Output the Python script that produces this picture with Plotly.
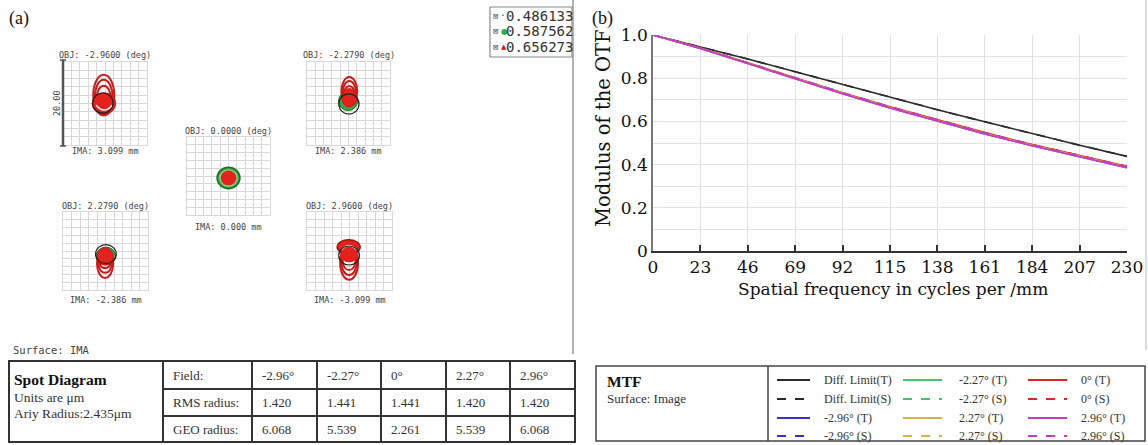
import plotly.graph_objects as go

W, H = 1148, 445

# ---------------- MTF data (panel b) ----------------
freq = [0, 23, 46, 69, 92, 115, 138, 161, 184, 207, 230]
diff_T = [1.000, 0.946, 0.889, 0.830, 0.771, 0.712, 0.654, 0.598, 0.543, 0.490, 0.438]
diff_S = [1.000, 0.946, 0.889, 0.830, 0.771, 0.712, 0.654, 0.598, 0.543, 0.490, 0.438]
m296_T = [1.000, 0.938, 0.868, 0.797, 0.728, 0.662, 0.601, 0.542, 0.487, 0.435, 0.386]
m296_S = [1.000, 0.939, 0.870, 0.800, 0.732, 0.666, 0.605, 0.546, 0.491, 0.439, 0.391]
m227_T = [1.000, 0.939, 0.869, 0.799, 0.730, 0.664, 0.603, 0.544, 0.489, 0.437, 0.388]
m227_S = [1.000, 0.939, 0.870, 0.800, 0.731, 0.665, 0.604, 0.545, 0.490, 0.438, 0.389]
z_T = [1.000, 0.940, 0.871, 0.802, 0.733, 0.668, 0.607, 0.548, 0.493, 0.441, 0.392]
z_S = [1.000, 0.940, 0.871, 0.802, 0.733, 0.668, 0.607, 0.548, 0.493, 0.441, 0.392]
p227_T = [1.000, 0.939, 0.869, 0.799, 0.730, 0.664, 0.603, 0.544, 0.489, 0.437, 0.388]
p227_S = [1.000, 0.939, 0.870, 0.800, 0.731, 0.665, 0.604, 0.545, 0.490, 0.438, 0.389]
p296_T = [1.000, 0.938, 0.868, 0.797, 0.728, 0.662, 0.601, 0.542, 0.487, 0.435, 0.386]
p296_S = [1.000, 0.939, 0.870, 0.800, 0.732, 0.666, 0.605, 0.546, 0.491, 0.439, 0.391]
y_tickvals = [0, 0.2, 0.4, 0.6, 0.8, 1.0]
y_ticktext = ["0", "0.2", "0.4", "0.6", "0.8", "1.0"]

# ---------------- Spot diagram table data (panel a) ----------------
fields = ["-2.96°", "-2.27°", "0°", "2.27°", "2.96°"]
rms_radius = ["1.420", "1.441", "1.441", "1.420", "1.420"]
geo_radius = ["6.068", "5.539", "2.261", "5.539", "6.068"]
wavelengths = ["0.486133", "0.587562", "0.656273"]
airy_radius = 2.435

obj_labels = ["OBJ: -2.9600 (deg)", "OBJ: -2.2790 (deg)", "OBJ: 0.0000 (deg)",
              "OBJ: 2.2790 (deg)", "OBJ: 2.9600 (deg)"]
ima_labels = ["IMA: 3.099 mm", "IMA: 2.386 mm", "IMA: 0.000 mm",
              "IMA: -2.386 mm", "IMA: -3.099 mm"]

BLACK = "#2b2b2b"
BLUE = "#3b2fc0"
GREEN = "#45c46e"
GOLD = "#d6b444"
RED = "#d42a2a"
MAG = "#c43dc8"

mtf_series = [
    ("Diff. Limit(T)", diff_T, BLACK, "solid"),
    ("Diff. Limit(S)", diff_S, BLACK, "dash"),
    ("-2.96° (T)", m296_T, BLUE, "solid"),
    ("-2.96° (S)", m296_S, BLUE, "dash"),
    ("-2.27° (T)", m227_T, GREEN, "solid"),
    ("-2.27° (S)", m227_S, GREEN, "dash"),
    ("0° (T)", z_T, RED, "solid"),
    ("0° (S)", z_S, RED, "dash"),
    ("2.27° (T)", p227_T, GOLD, "solid"),
    ("2.27° (S)", p227_S, GOLD, "dash"),
    ("2.96° (T)", p296_T, MAG, "solid"),
    ("2.96° (S)", p296_S, MAG, "dash"),
]

def X(px):
    return px / W

def Y(py):
    return 1 - py / H

SERIF = "DejaVu Serif"
TIMES = "Liberation Serif"
MONO = "DejaVu Sans Mono"

fig = go.Figure()
for name, vals, col, dash in mtf_series:
    fig.add_trace(go.Scatter(x=freq, y=vals, mode="lines", name=name,
                             line=dict(color=col, width=1.6, dash=dash),
                             xaxis="x", yaxis="y", showlegend=False))

shapes = []
annotations = []

def txt(x, y, s, size, family, color="#222", xanchor="left", angle=0):
    annotations.append(dict(x=X(x), y=Y(y), xref="paper", yref="paper", text=s,
                            showarrow=False, xanchor=xanchor, yanchor="middle",
                            font=dict(size=size, family=family, color=color),
                            textangle=angle, borderpad=0))

def pline(x0, y0, x1, y1, color="#333", width=1.5, dash="solid"):
    shapes.append(dict(type="line", xref="paper", yref="paper",
                       x0=X(x0), y0=Y(y0), x1=X(x1), y1=Y(y1),
                       line=dict(color=color, width=width, dash=dash)))

def prect(x0, y0, x1, y1, color="#333", width=1.5, fill="rgba(0,0,0,0)"):
    shapes.append(dict(type="rect", xref="paper", yref="paper",
                       x0=X(x0), y0=Y(y1), x1=X(x1), y1=Y(y0),
                       line=dict(color=color, width=width), fillcolor=fill))

# ---------------- spot diagram panels ----------------
panels = [  # grid box in pixels: x0, x1, y0, y1, title y, ima y
    (63, 147, 62, 145, 55, 151),
    (307, 390, 62, 145, 55, 151),
    (187, 270, 137, 215, 131, 227),
    (63, 148, 212, 290, 206, 300),
    (307, 392, 212, 290, 206, 300),
]

layout_axes = {}
for i, (x0, x1, y0, y1, ty, iy) in enumerate(panels):
    n = i + 2
    ax = dict(domain=[X(x0), X(x1)], range=[-10, 10], dtick=2, showgrid=True,
              gridcolor="#d8d8d8", gridwidth=1, zeroline=False, showticklabels=False,
              ticks="", showline=True, mirror=True, linecolor="#d8d8d8", fixedrange=True,
              automargin=False)
    ay = dict(ax)
    ay["domain"] = [Y(y1), Y(y0)]
    layout_axes[f"xaxis{n}"] = dict(ax, anchor=f"y{n}")
    layout_axes[f"yaxis{n}"] = dict(ay, anchor=f"x{n}")
    fig.add_trace(go.Scatter(x=[0], y=[0], mode="markers", marker=dict(size=1, opacity=0),
                             xaxis=f"x{n}", yaxis=f"y{n}", showlegend=False, hoverinfo="skip"))
    cx = (x0 + x1) / 2
    txt(cx, ty, obj_labels[i], 8.5, MONO, "#444", "center")
    txt(cx, iy, ima_labels[i], 8.5, MONO, "#444", "center")

SRED = "#e3221d"
DRED = "#cc1a1a"
SGREEN = "#38a347"
DGREEN = "#1e6e2b"

def ell(n, cx, cy, rx, ry, fill=None, line=None, lw=1.0, dash="solid"):
    shapes.append(dict(type="circle", xref=f"x{n}", yref=f"y{n}",
                       x0=cx - rx, x1=cx + rx, y0=cy - ry, y1=cy + ry,
                       fillcolor=fill or "rgba(0,0,0,0)",
                       line=dict(color=line or "rgba(0,0,0,0)", width=lw, dash=dash)))

def arcpath(n, p, color="white", lw=1.5):
    shapes.append(dict(type="path", xref=f"x{n}", yref=f"y{n}", path=p,
                       line=dict(color=color, width=lw)))

ARC_W = 2.0

# P1: -2.96 deg
for (cx, cy, rx, ry) in [(-0.3, 2.0, 2.5, 4.9), (-0.3, 1.6, 2.1, 4.1), (-0.3, 1.1, 1.7, 3.2)]:
    ell(2, cx, cy, rx, ry, line=DRED, lw=ARC_W)
ell(2, -0.25, 0.0, 2.8, 2.6, fill=SRED, line=DRED, lw=1)
arcpath(2, "M -2.1,-0.4 Q -0.2,-2.7 1.7,-0.4")
ell(2, -0.5, 0.1, airy_radius, airy_radius, line="#222", lw=1.2)

# P2: -2.279 deg
ell(3, -0.1, 0.6, 2.3, 2.3, fill=SGREEN, line=DGREEN, lw=1)
for (cx, cy, rx, ry) in [(0.2, 2.9, 1.9, 3.5), (0.2, 2.6, 1.6, 2.8), (0.2, 2.3, 1.3, 1.9)]:
    ell(3, cx, cy, rx, ry, line=DRED, lw=ARC_W)
ell(3, 0.2, 1.4, 1.8, 2.2, fill=SRED, line=DRED, lw=1)
ell(3, 0.1, -0.1, airy_radius, airy_radius, line="#222", lw=1.2)

# P3: 0 deg
ell(4, 0, -0.5, 2.75, 2.75, fill=SGREEN, line=DGREEN, lw=1.5)
ell(4, 0, -0.5, 2.25, 2.25, fill="#8fd07a")
ell(4, 0, -0.5, 1.9, 1.9, fill=SRED)

# P4: 2.279 deg
ell(5, 0.1, -1.3, 2.3, 2.3, fill=SGREEN, line=DGREEN, lw=1)
for (cx, cy, rx, ry) in [(-0.1, -3.3, 1.9, 3.6), (-0.1, -3.1, 1.6, 2.5), (-0.1, -2.9, 1.3, 1.5)]:
    ell(5, cx, cy, rx, ry, line=DRED, lw=ARC_W)
ell(5, -0.1, -1.4, 1.9, 2.2, fill=SRED, line=DRED, lw=1)
ell(5, 0.1, -0.8, airy_radius, airy_radius, line="#222", lw=1.2)

# P5: 2.96 deg
for (cx, cy, rx, ry) in [(-0.1, -3.0, 2.1, 4.4), (-0.1, -2.8, 1.8, 3.4), (-0.1, -2.6, 1.5, 2.3)]:
    ell(6, cx, cy, rx, ry, line=DRED, lw=ARC_W)
ell(6, -0.2, 1.0, 2.7, 1.9, fill=SRED, line="#a81212", lw=1.5)
arcpath(6, "M -1.9,0.3 Q -0.1,2.4 1.7,0.3")
ell(6, -0.1, -1.0, 1.9, 1.9, fill=SRED)
ell(6, -0.1, -1.15, airy_radius, airy_radius, line="#222", lw=1.2)

# scale bar on first panel
pline(63, 60, 63, 146, "#555", 2.5)
pline(60, 60, 66, 60, "#555", 1.5)
pline(60, 146, 66, 146, "#555", 1.5)
txt(57, 103, "20.00", 8.5, MONO, "#444", "center", angle=-90)

# wavelength legend box
prect(490, 7, 572, 57, "#8a8a8a", 1.2, "white")
wl_marks = [("·", "#3050d0", 12), ("●", "#2fb04a", 8), ("▲", "#d02020", 7)]
for k, wl in enumerate(wavelengths):
    yy = 16 + k * 15.5
    txt(492, yy, "⊠", 9, MONO, "#555")
    txt(500, yy, wl_marks[k][0], wl_marks[k][2], "DejaVu Sans", wl_marks[k][1])
    txt(505, yy, wl, 14, MONO, "#333")

# panel borders
pline(573, 0, 573, 354, "#9a9a9a", 1.5)
pline(1146, 0, 1146, 350, "#cfcfcf", 1.5)

txt(8, 18, "(a)", 18, TIMES, "#111")
txt(591, 18, "(b)", 18, TIMES, "#111")
txt(12, 350, "Surface: IMA", 10.5, MONO, "#444")

# ---------------- spot diagram table ----------------
TC = "#333"
prect(9, 361, 575, 442, TC, 2)
for xv in [163, 252, 317, 381, 446, 510]:
    pline(xv, 361, xv, 442, TC, 2)
for yv in [389, 416]:
    pline(163, yv, 575, yv, TC, 2)
txt(13, 379, "<b>Spot Diagram</b>", 15.5, TIMES, "#111")
txt(13, 397, "Units are μm", 13.5, TIMES, "#333")
txt(13, 413, "Ariy Radius:2.435μm", 13.5, TIMES, "#333")
row_y = [375, 402, 429]
row_names = ["Field:", "RMS radius:", "GEO radius:"]
for r, nm in enumerate(row_names):
    txt(172, row_y[r], nm, 13, TIMES, "#333")
col_x = [261, 326, 390, 455, 519]
for c in range(5):
    txt(col_x[c], row_y[0], fields[c], 13, TIMES, "#333")
    txt(col_x[c], row_y[1], rms_radius[c], 13, TIMES, "#333")
    txt(col_x[c], row_y[2], geo_radius[c], 13, TIMES, "#333")

# ---------------- MTF legend table ----------------
prect(596, 366, 1145, 441, "#444", 1.5)
pline(768, 366, 768, 441, "#444", 1.5)
txt(606, 381, "<b>MTF</b>", 15.5, TIMES, "#111")
txt(606, 398, "Surface: Image", 13, TIMES, "#333")
leg_rows = [380, 399, 418, 436]
leg_cols = [(777, 810, 823), (903, 942, 958), (1028, 1067, 1080)]
leg_order = [
    [0, 1, 2, 3],
    [4, 5, 8, 9],
    [6, 7, 10, 11],
]
for c, idxs in enumerate(leg_order):
    lx0, lx1, tx = leg_cols[c]
    for r, idx in enumerate(idxs):
        name, _, col, dash = mtf_series[idx]
        pline(lx0, leg_rows[r], lx1, leg_rows[r], col, 2, "solid" if dash == "solid" else "dash")
        txt(tx, leg_rows[r], name, 12, TIMES, "#333")

# ---------------- MTF axes titles ----------------
txt(603, 128, "Modulus of the OTF", 19.5, SERIF, "#111", "center", angle=-90)
txt(893, 289, "Spatial frequency in cycles per /mm", 17, SERIF, "#111", "center")

fig.update_layout(
    width=W, height=H, autosize=False,
    margin=dict(l=0, r=0, t=0, b=0, pad=0, autoexpand=False),
    paper_bgcolor="white", plot_bgcolor="white",
    showlegend=False,
    xaxis=dict(domain=[X(653), X(1127)], range=[0, 230], tickvals=freq,
               ticks="inside", ticklen=6, tickcolor="#333", tickwidth=1.5,
               showline=True, linecolor="#333", linewidth=2, automargin=False,
               showgrid=True, gridcolor="#e2e2e2", gridwidth=1.2, zeroline=False,
               tickfont=dict(family=SERIF, size=17, color="#111"), anchor="y"),
    yaxis=dict(domain=[Y(251), Y(35)], range=[0, 1], tickvals=y_tickvals, ticktext=y_ticktext,
               ticks="", showline=True, linecolor="#777", linewidth=1.5, automargin=False,
               showgrid=True, gridcolor="#e2e2e2", gridwidth=1.2, zeroline=False,
               minor=dict(dtick=0.1, showgrid=True, gridcolor="#e2e2e2", gridwidth=1.2),
               tickfont=dict(family=SERIF, size=17, color="#111"), anchor="x"),
    shapes=shapes,
    annotations=annotations,
    **layout_axes,
)

fig.write_html("out.html", config={"displayModeBar": False},
               post_script="document.body.style.margin='0';document.body.style.overflow='hidden';")
